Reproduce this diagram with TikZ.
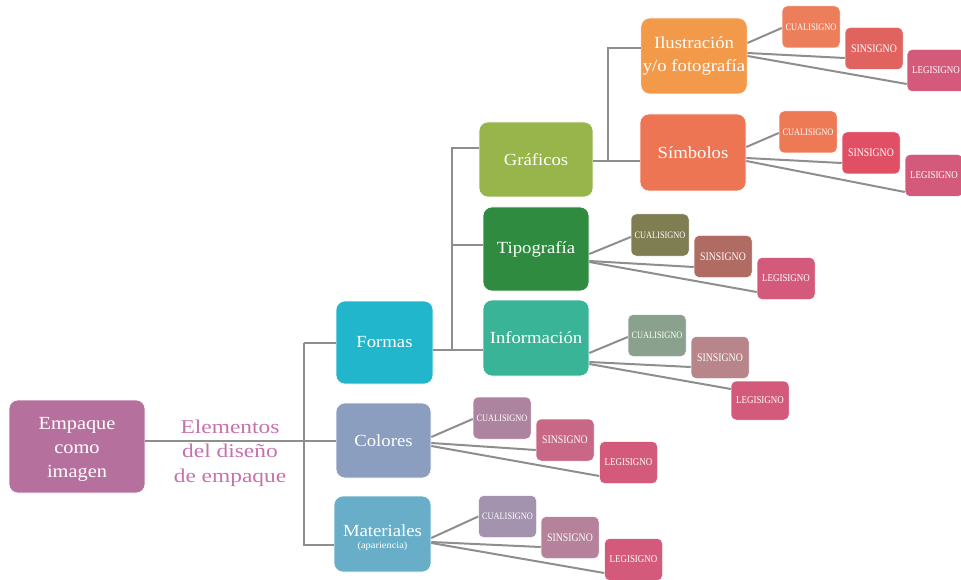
\documentclass[tikz,border=0pt]{standalone}
\usepackage{fontspec}
\setmainfont{Liberation Serif}[FakeStretch=1.1]
\newfontfamily\signfont{Liberation Serif}[FakeStretch=0.85]
\newfontfamily\labfont{Liberation Serif}[FakeStretch=1.2]
\usetikzlibrary{calc}

\definecolor{linegray}{HTML}{8E8E8E}
\definecolor{empcol}{HTML}{B5709E}
\definecolor{labcol}{HTML}{C472AC}
\definecolor{formcol}{HTML}{22B6CD}
\definecolor{colcol}{HTML}{8B9EBF}
\definecolor{matcol}{HTML}{69AEC9}
\definecolor{grafcol}{HTML}{97B54A}
\definecolor{tipocol}{HTML}{2E8B40}
\definecolor{infocol}{HTML}{3AB497}
\definecolor{iluscol}{HTML}{F3994A}
\definecolor{simbcol}{HTML}{EE7553}
\definecolor{legicol}{HTML}{D45A7B}
\definecolor{ilusc}{HTML}{EC7E5B}
\definecolor{iluss}{HTML}{E1635F}
\definecolor{simbc}{HTML}{EE7A55}
\definecolor{simbs}{HTML}{E04F63}
\definecolor{tipoc}{HTML}{7F7E52}
\definecolor{tipos}{HTML}{B06B63}
\definecolor{infoc}{HTML}{8AA18E}
\definecolor{infos}{HTML}{B8858A}
\definecolor{colc}{HTML}{AD849F}
\definecolor{cols}{HTML}{C86886}
\definecolor{matc}{HTML}{A393AE}
\definecolor{mats}{HTML}{B6819B}

\tikzset{
  box/.style={rounded corners=9pt, fill=#1, draw=white, line width=0.6pt,
    text=white, align=center, inner sep=2pt},
  mid/.style={font=\fontsize{17}{23.5}\selectfont},
  sign/.style={rounded corners=5pt, fill=#1, draw=white, line width=0.5pt,
    text=white, align=center, inner sep=1pt, minimum width=58pt, minimum height=42pt},
  cuali/.style={sign=#1, font=\signfont\fontsize{9.8}{10}\selectfont},
  sinsi/.style={sign=#1, font=\signfont\fontsize{11.5}{12}\selectfont},
  legi/.style={sign=legicol, font=\signfont\fontsize{10.5}{11}\selectfont},
  link/.style={draw=linegray, line width=2pt},
}

\begin{document}
\begin{tikzpicture}[x=1pt, y=-1pt]
\useasboundingbox (0,0) rectangle (961,580);

\node[box=empcol, minimum width=136pt, minimum height=93pt, font=\fontsize{18.5}{24}\selectfont] (emp) at (77,446.5) {\raisebox{-3pt}[\height][\depth]{Empaque}\\\raisebox{-3pt}[\height][\depth]{como}\\\raisebox{-3pt}[\height][\depth]{imagen}};
\node[text=labcol, align=center, font=\labfont\fontsize{19.5}{24.5}\selectfont] (lab) at (230,453) {Elementos\\del diseño\\de empaque};

\node[box=formcol, mid, minimum width=97pt, minimum height=83pt] (formas) at (384.5,342.5) {Formas};
\node[box=colcol, mid, minimum width=95pt, minimum height=75pt] (colores) at (383.5,440.5) {Colores};
\node[box=matcol, mid, minimum width=97pt, minimum height=76pt] (mater) at (382.5,534) {\raisebox{-4pt}[\height][\depth]{Materiales}\\[-10.5pt]{\fontsize{9.5}{11}\selectfont\raisebox{-3pt}[\height][\depth]{(apariencia)}}};

\node[box=grafcol, mid, minimum width=114pt, minimum height=75pt] (graf) at (536,159.5) {Gráficos};
\node[box=tipocol, mid, minimum width=106pt, minimum height=84pt] (tipo) at (536,249) {Tipografía};
\node[box=infocol, mid, minimum width=106pt, minimum height=76pt] (info) at (536,338) {Información};

\node[box=iluscol, mid, minimum width=104pt, minimum height=76pt] (ilus) at (694,56) {Ilustración\\y/o fotografía};
\node[box=simbcol, mid, minimum width=106pt, minimum height=77pt] (simb) at (693,152.5) {Símbolos};

\node[cuali=ilusc] (ilus-c) at (811,27) {CUALISIGNO};
\node[sinsi=iluss] (ilus-s) at (874,48.5) {SINSIGNO};
\node[legi] (ilus-l) at (936,70.5) {LEGISIGNO};

\node[cuali=simbc] (simb-c) at (808,132) {CUALISIGNO};
\node[sinsi=simbs] (simb-s) at (871,153) {SINSIGNO};
\node[legi] (simb-l) at (934,175.5) {LEGISIGNO};

\node[cuali=tipoc] (tipo-c) at (660,235) {CUALISIGNO};
\node[sinsi=tipos] (tipo-s) at (723,256.5) {SINSIGNO};
\node[legi] (tipo-l) at (786,278.5) {LEGISIGNO};

\node[cuali=infoc] (info-c) at (657,335.5) {CUALISIGNO};
\node[sinsi=infos] (info-s) at (720,357.5) {SINSIGNO};
\node[legi, minimum height=39pt] (info-l) at (760,400.5) {LEGISIGNO};

\node[cuali=colc] (col-c) at (502,418) {CUALISIGNO};
\node[sinsi=cols] (col-s) at (565,440) {SINSIGNO};
\node[legi] (col-l) at (628.5,462.5) {LEGISIGNO};

\node[cuali=matc] (mat-c) at (507.5,516.5) {CUALISIGNO};
\node[sinsi=mats] (mat-s) at (570,537.5) {SINSIGNO};
\node[legi] (mat-l) at (633.5,559.5) {LEGISIGNO};

% tree
\coordinate (j1) at ($(formas.west)+(-32,0)$);
\coordinate (j2) at ($(info.west)+(-31,12)$);
\coordinate (j3) at ($(graf.east)+(15,2)$);

\draw[link] (emp.east |- colores.west) -- (colores.west);
\draw[link] (formas.west) -- (j1);
\draw[link] ($(mater.west)+(0,11)$) -| (j1);

\draw[link] ($(formas.east)+(0,7.5)$) -- ($(info.west)+(0,12)$);
\draw[link] ($(graf.west)+(0,-11)$) -| (j2);
\draw[link] ($(tipo.west)+(0,-4)$) -| (j2);

\draw[link] ($(graf.east)+(0,2)$) -- (j3);
\draw[link] ($(ilus.west)+(0,-8)$) -| (j3);
\draw[link] ($(simb.west)+(0,8.5)$) -| (j3);

% signs
\draw[link] ($(ilus.east)+(0,-13)$) -- ($(ilus-c.west)+(0,1)$);
\draw[link] ($(ilus.east)+(0,-3)$) -- ($(ilus-s.west)+(0,9.5)$);
\draw[link] (ilus.east) -- ($(ilus-l.west)+(0,13.5)$);

\draw[link] ($(simb.east)+(0,-5.5)$) -- ($(simb-c.west)+(0,1)$);
\draw[link] ($(simb.east)+(0,5.5)$) -- ($(simb-s.west)+(0,10)$);
\draw[link] ($(simb.east)+(0,8.5)$) -- ($(simb-l.west)+(0,16.5)$);

\draw[link] ($(tipo.east)+(0,5)$) -- ($(tipo-c.west)+(0,2)$);
\draw[link] ($(tipo.east)+(0,12)$) -- ($(tipo-s.west)+(0,10.5)$);
\draw[link] ($(tipo.east)+(0,13)$) -- ($(tipo-l.west)+(0,13.5)$);

\draw[link] ($(info.east)+(0,15)$) -- ($(info-c.west)+(0,1.5)$);
\draw[link] ($(info.east)+(0,24)$) -- ($(info-s.west)+(0,9.5)$);
\draw[link] ($(info.east)+(0,26)$) -- ($(info-l.west)+(0,-11.5)$);

\draw[link] ($(colores.east)+(0,-3.5)$) -- ($(col-c.west)+(0,1)$);
\draw[link] ($(colores.east)+(0,2.5)$) -- ($(col-s.west)+(0,10)$);
\draw[link] ($(colores.east)+(0,5.5)$) -- ($(col-l.west)+(0,13.5)$);

\draw[link] ($(mater.east)+(0,4)$) -- (mat-c.west);
\draw[link] ($(mater.east)+(0,8)$) -- ($(mat-s.west)+(0,9.5)$);
\draw[link] ($(mater.east)+(0,9)$) -- ($(mat-l.west)+(0,13.5)$);
\end{tikzpicture}
\end{document}
